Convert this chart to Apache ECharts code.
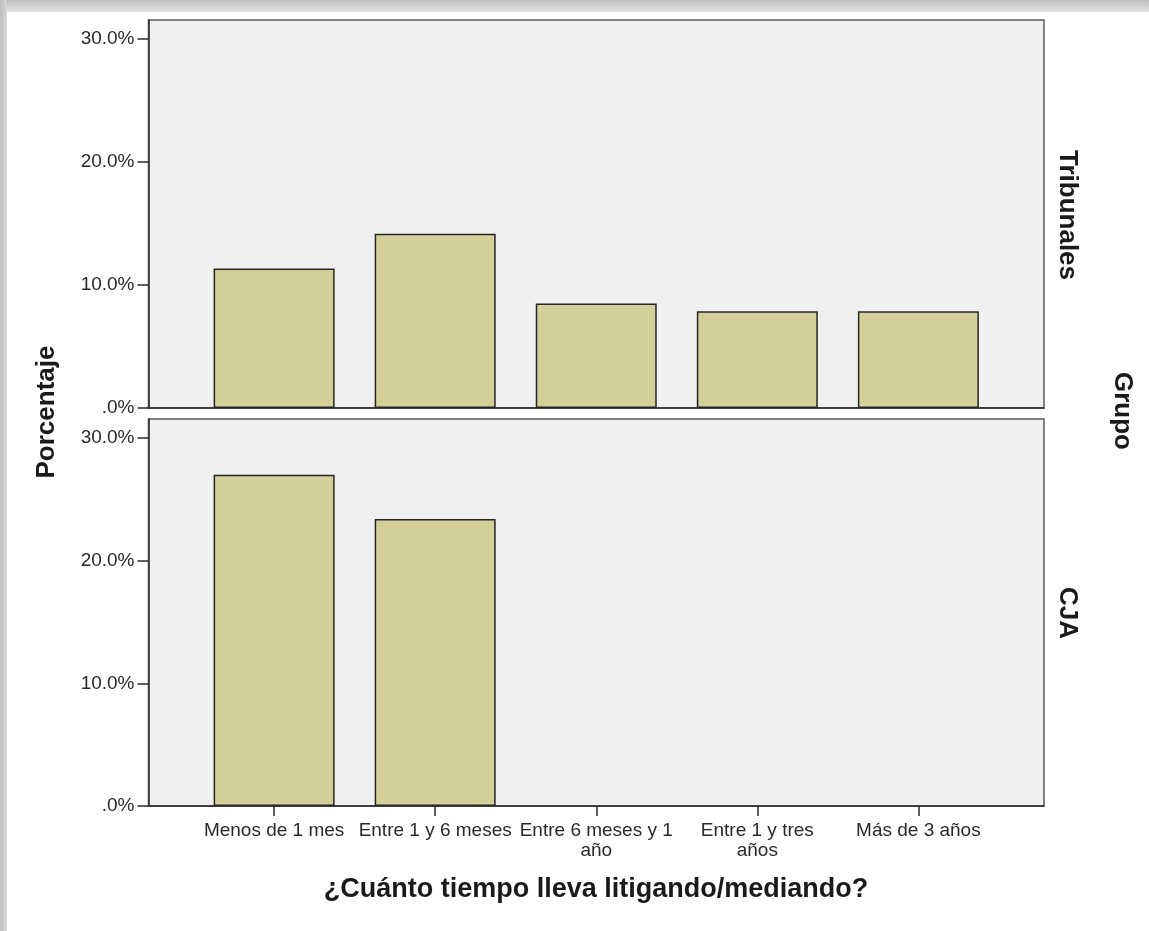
<!DOCTYPE html>
<html>
<head>
<meta charset="utf-8">
<script src="https://cdn.jsdelivr.net/npm/echarts@6/dist/echarts.min.js"></script>
<style>
html,body{margin:0;padding:0;background:#fff;}
#chart{width:1149px;height:931px;}
</style>
</head>
<body>
<div id="chart"></div>
<script>
const categories = ['Menos de 1 mes', 'Entre 1 y 6 meses', 'Entre 6 meses y 1\naño', 'Entre 1 y tres\naños', 'Más de 3 años'];
const tribunalesValues = [11.35, 14.17, 8.5, 7.87, 7.87];
const cjaValues = [27.0, 23.4, null, null, null];
const yTicks = [0, 10, 20, 30];
const groupNames = ['Tribunales', 'CJA'];
const xTitle = '¿Cuánto tiempo lleva litigando/mediando?';
const yTitle = 'Porcentaje';
const facetTitle = 'Grupo';

const FONT = '"Liberation Sans", Arial, sans-serif';
const chart = echarts.init(document.getElementById('chart'), null, {renderer: 'canvas'});

function yFmt(v) { return v === 0 ? '.0%' : v.toFixed(1) + '%'; }
const xIdx = categories.map((c, i) => i);

function yAxis(gi) {
  return {
    type: 'value', gridIndex: gi, min: 0, max: 31.55,
    axisLine: {show: true, onZero: false, lineStyle: {color: '#2a2a2a', width: 1.5}},
    axisTick: {show: true, length: 11, customValues: yTicks, lineStyle: {color: '#2a2a2a', width: 1.5}},
    axisLabel: {customValues: yTicks, formatter: yFmt, color: '#2a2a2a', fontSize: 19, fontFamily: FONT, margin: 14},
    splitLine: {show: false}
  };
}
function xAxis(gi, showLabels) {
  return {
    type: 'value', gridIndex: gi, min: -0.78, max: 4.78,
    axisLine: {show: true, onZero: false, lineStyle: {color: '#2a2a2a', width: 1.5}},
    axisTick: {show: showLabels, length: 10, customValues: xIdx, lineStyle: {color: '#2a2a2a', width: 1.5}},
    axisLabel: {show: showLabels, customValues: xIdx, formatter: v => categories[Math.round(v)],
      color: '#2a2a2a', fontSize: 19, lineHeight: 20, fontFamily: FONT, margin: 15},
    splitLine: {show: false}
  };
}
function barSeries(vals, gi) {
  return {
    type: 'bar', xAxisIndex: gi, yAxisIndex: gi, barWidth: 121,
    data: vals.map((v, i) => [i, v]),
    itemStyle: {color: '#d3cf98', borderColor: '#262626', borderWidth: 1.5},
    silent: true
  };
}

const option = {
  animation: false,
  backgroundColor: '#ffffff',
  grid: [
    {left: 148.5, top: 20, width: 895.5, height: 388, show: true, backgroundColor: '#f0f0f0', borderColor: '#5a5a5a', borderWidth: 1.5},
    {left: 148.5, top: 419, width: 895.5, height: 387, show: true, backgroundColor: '#f0f0f0', borderColor: '#5a5a5a', borderWidth: 1.5}
  ],
  xAxis: [xAxis(0, false), xAxis(1, true)],
  yAxis: [yAxis(0), yAxis(1)],
  series: [barSeries(tribunalesValues, 0), barSeries(cjaValues, 1)],
  graphic: [
    {type: 'rect', shape: {x: 0, y: 0, width: 1149, height: 12}, silent: true,
      style: {fill: new echarts.graphic.LinearGradient(0, 0, 0, 1, [{offset: 0, color: '#bdbdbd'}, {offset: 1, color: '#e6e6e6'}])}},
    {type: 'rect', shape: {x: 0, y: 0, width: 7, height: 931}, silent: true,
      style: {fill: new echarts.graphic.LinearGradient(0, 0, 1, 0, [{offset: 0, color: '#bdbdbd'}, {offset: 1, color: '#d8d8d8'}])}},
    {type: 'text', x: 596, y: 890, silent: true,
      style: {text: xTitle, font: 'bold 27px ' + FONT, fill: '#1a1a1a', align: 'center', verticalAlign: 'middle'}},
    {type: 'text', x: 47, y: 412, rotation: Math.PI / 2, silent: true,
      style: {text: yTitle, font: 'bold 26px ' + FONT, fill: '#1a1a1a', align: 'center', verticalAlign: 'middle'}},
    {type: 'text', x: 1067, y: 215, rotation: -Math.PI / 2, silent: true,
      style: {text: groupNames[0], font: 'bold 26px ' + FONT, fill: '#1a1a1a', align: 'center', verticalAlign: 'middle'}},
    {type: 'text', x: 1067, y: 613, rotation: -Math.PI / 2, silent: true,
      style: {text: groupNames[1], font: 'bold 26px ' + FONT, fill: '#1a1a1a', align: 'center', verticalAlign: 'middle'}},
    {type: 'text', x: 1122, y: 411, rotation: -Math.PI / 2, silent: true,
      style: {text: facetTitle, font: 'bold 26px ' + FONT, fill: '#1a1a1a', align: 'center', verticalAlign: 'middle'}}
  ]
};
chart.setOption(option);
</script>
</body>
</html>
